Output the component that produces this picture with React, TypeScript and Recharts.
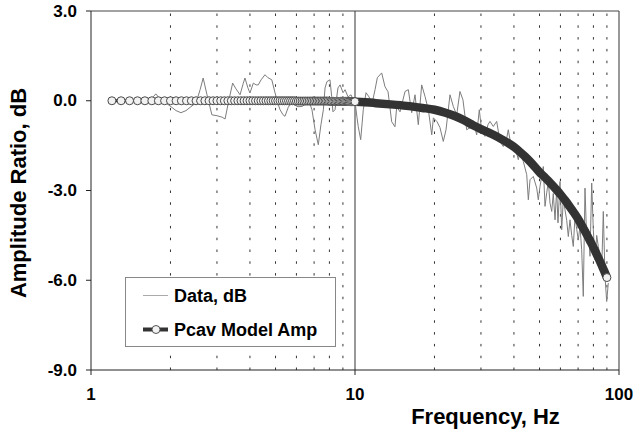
import React from 'react';
import { LineChart, Line, XAxis, YAxis, ReferenceLine, Label } from 'recharts';

const FONT = '"Liberation Sans", Arial, Helvetica, sans-serif';

const xTicks = [1, 10, 100];
const yTicks = [-9, -6, -3, 0, 3];
const dottedGrid = [2, 3, 4, 5, 6, 7, 8, 9, 20, 30, 40, 50, 60, 70, 80, 90];
const solidGrid = [10];

const seriesNames = ['Data, dB', 'Pcav Model Amp'];
const xTitle = 'Frequency, Hz';
const yTitle = 'Amplitude Ratio, dB';

const dataFreq = [
  1.67, 1.72, 1.76, 1.81, 1.87, 1.94, 2.01, 2.1, 2.19, 2.29, 2.39, 2.5, 2.59, 2.66, 2.75, 2.87,
  3.0, 3.14, 3.22, 3.33, 3.44, 3.54, 3.67, 3.77, 3.83, 3.93, 4.0, 4.12, 4.22, 4.3, 4.41, 4.56,
  4.68, 4.84, 4.98, 5.11, 5.2, 5.34, 5.43, 5.58, 5.72, 5.87, 6.08, 6.3, 6.52, 6.7, 6.87, 7.06,
  7.26, 7.43, 7.59, 7.7, 7.83, 8.04, 8.16, 8.25, 8.4, 8.62, 8.78, 9.01, 9.17, 9.41, 9.66, 9.83,
  10.0, 10.18, 10.29, 10.51, 10.75, 11.01, 11.3, 11.6, 11.91, 12.15, 12.62, 12.99, 13.34, 13.77,
  14.17, 14.39, 14.81, 15.47, 15.92, 16.4, 16.88, 17.37, 17.89, 18.42, 18.96, 19.53, 19.81,
  20.45, 20.99, 21.6, 22.12, 22.9, 23.57, 24.28, 24.98, 25.64, 26.49, 27.26, 27.99, 28.91,
  29.57, 30.2, 31.07, 31.9, 32.46, 33.41, 34.41, 35.42, 36.45, 37.55, 38.08, 39.23, 40.37,
  41.55, 42.17, 43.41, 44.72, 45.35, 46.02, 47.36, 48.79, 49.47, 50.22, 51.68, 52.45, 53.23,
  53.98, 54.79, 55.61, 56.37, 57.24, 58.07, 58.74, 59.77, 60.67, 61.52, 62.43, 63.38, 64.27,
  65.22, 66.2, 67.12, 68.13, 69.16, 70.11, 71.16, 72.22, 73.24, 74.33, 75.45, 76.5, 77.66,
  78.81, 79.92, 81.11, 82.33, 83.48, 84.73, 86.0, 87.21, 88.51, 89.82, 91.09,
];
const dataDb = [
  0.0, 0.13, 0.23, 0.1, 0.0, -0.1, -0.2, -0.33, -0.4, -0.33, -0.2, -0.07, 0.37, 0.76, 0.2, -0.47,
  -0.5, -0.55, -0.61, 0.03, 0.59, 0.4, 0.2, 0.57, 0.76, 0.43, 0.26, 0.59, 0.53, 0.53, 0.7, 0.87,
  0.77, 0.7, 0.26, -0.1, -0.3, -0.47, -0.52, -0.23, -0.07, -0.13, -0.2, -0.19, -0.1, -0.03, -0.3, -0.97,
  -1.47, -0.8, -0.3, 0.43, 0.64, 0.7, 0.14, -0.37, -0.3, 0.43, 0.53, 0.27, 0.37, 0.13, 0.2, 0.03,
  -0.02, -0.57, -0.87, -1.3, -0.3, 0.27, 0.13, -0.1, 0.37, 0.77, 0.93, 0.47, 0.3, -0.7,
  -0.87, -0.2, -0.37, 0.31, 0.37, -0.4, 0.2, -0.8, 0.53, 0.14, -0.3, -1.14, -0.57,
  -0.7, -0.9, -1.36, -0.97, 0.2, -0.19, -0.47, 0.31, 0.03, -0.97, -0.9, -0.67, -1.14,
  -0.3, -1.03, -1.19, -0.8, -0.69, -0.86, -0.69, -1.36, -1.53, -1.25, -0.97, -1.64, -1.53,
  -1.97, -1.69, -2.03, -2.47, -3.31, -2.64, -2.53, -2.92, -3.31, -2.86, -2.2, -3.53, -3.08,
  -2.7, -3.42, -3.7, -3.1, -3.98, -2.97, -4.08, -2.7, -4.31, -3.3, -3.64, -4.0, -4.54,
  -3.98, -4.5, -4.87, -3.87, -4.3, -4.65, -4.2, -4.98, -6.54, -2.92, -4.65, -4.3, -5.2,
  -2.75, -4.31, -5.31, -4.5, -4.87, -5.2, -5.65, -3.7, -5.87, -6.71, -6.09,
];

const modelFreq = [
  1.2, 1.3, 1.4, 1.5, 1.6, 1.7, 1.8, 1.9,
  2.0, 2.1, 2.2, 2.3, 2.4, 2.5, 2.6, 2.7, 2.8, 2.9,
  3.0, 3.1, 3.2, 3.3, 3.4, 3.5, 3.6, 3.7, 3.8, 3.9,
  4.0, 4.1, 4.2, 4.3, 4.4, 4.5, 4.6, 4.7, 4.8, 4.9,
  5.0, 5.1, 5.2, 5.3, 5.4, 5.5, 5.6, 5.7, 5.8, 5.9,
  6.0, 6.1, 6.2, 6.3, 6.4, 6.5, 6.6, 6.7, 6.8, 6.9,
  7.0, 7.1, 7.2, 7.3, 7.4, 7.5, 7.6, 7.7, 7.8, 7.9,
  8.0, 8.1, 8.2, 8.3, 8.4, 8.5, 8.6, 8.7, 8.8, 8.9,
  9.0, 9.1, 9.2, 9.3, 9.4, 9.5, 9.6, 9.7, 9.8, 9.9, 10.0,
  12, 14, 16, 18, 20, 22, 24, 26, 28, 30, 32, 34, 36, 38, 40, 42, 44, 46, 48, 50,
  52, 54, 56, 58, 60, 62, 64, 66, 68, 70, 72, 74, 76, 78, 80, 82, 84, 86, 88, 90,
];
const modelDb = [
  0, 0, 0, 0, 0, 0, 0, 0,
  0, 0, 0, 0, 0, 0, 0, 0, 0, 0,
  0, 0, 0, 0, 0, 0, 0, 0, 0, 0,
  0, 0, 0, 0, 0, 0, 0, 0, 0, 0,
  0, 0, 0, 0, 0, 0, 0, 0, 0, 0,
  -0.01, -0.01, -0.01, -0.01, -0.01, -0.01, -0.01, -0.01, -0.01, -0.01,
  -0.01, -0.01, -0.01, -0.01, -0.01, -0.01, -0.01, -0.01, -0.01, -0.01,
  -0.02, -0.02, -0.02, -0.02, -0.02, -0.02, -0.02, -0.02, -0.02, -0.02,
  -0.02, -0.02, -0.02, -0.02, -0.02, -0.03, -0.03, -0.03, -0.03, -0.03, -0.03,
  -0.08, -0.13, -0.18, -0.24, -0.3, -0.4, -0.52, -0.66, -0.82, -0.95, -1.06, -1.17, -1.29, -1.41, -1.54, -1.7, -1.86, -2.03, -2.21, -2.39,
  -2.53, -2.68, -2.83, -2.98, -3.13, -3.29, -3.45, -3.62, -3.78, -3.95, -4.14, -4.33, -4.52, -4.71, -4.9, -5.1, -5.3, -5.5, -5.7, -5.91,
];

const dataRows = dataFreq.map((f, i) => ({ f, db: dataDb[i] }));
const modelRows = modelFreq.map((f, i) => ({ f, model: modelDb[i], band: f >= 9 ? modelDb[i] : null }));
const lastIdx = modelRows.length - 1;

const ModelDot = (props: any) => {
  const { cx, cy, index, payload } = props;
  if (cx == null || cy == null) return <g key={`md${index}`} />;
  if (payload.f <= 10 || index === lastIdx) {
    return <circle key={`md${index}`} cx={cx} cy={cy} r={4} fill="#f2f2f2" stroke="#4a4a4a" strokeWidth={1} />;
  }
  return <g key={`md${index}`} />;
};

const YTick = (props: any) => {
  const { x, y, payload } = props;
  const v = payload.value;
  return (
    <text x={x} y={y} textAnchor="end" dominantBaseline="central" fill="#000"
      fontFamily={FONT} fontWeight={700} fontSize={17}>
      {Number(v).toFixed(1)}
    </text>
  );
};

export default function App() {
  return (
    <div style={{ position: 'absolute', left: 0, top: 0, width: 635, height: 435, background: '#fff' }}>
      <LineChart width={635} height={435} margin={{ top: 11, right: 16, bottom: 0, left: 0 }}>
        <XAxis dataKey="f" type="number" scale="log" domain={[1, 100]} ticks={xTicks} allowDataOverflow
          height={65} tickSize={5} tickMargin={13} stroke="#222"
          tick={{ fill: '#000', fontSize: 17, fontWeight: 700, fontFamily: FONT }}>
          <Label content={() => (
            <text x={485.5} y={424} textAnchor="middle" fill="#000" fontFamily={FONT} fontWeight={700} fontSize={22}>{xTitle}</text>
          )} />
        </XAxis>
        <YAxis type="number" domain={[-9, 3]} ticks={yTicks} allowDataOverflow width={91}
          tickSize={5} tickMargin={9} stroke="#222" tick={<YTick />}>
          <Label content={() => (
            <text x={25.5} y={193} transform="rotate(-90, 25.5, 193)" textAnchor="middle" fill="#000"
              fontFamily={FONT} fontWeight={700} fontSize={22}>{yTitle}</text>
          )} />
        </YAxis>
        {dottedGrid.map((v) => (
          <ReferenceLine key={`g${v}`} x={v} stroke="#333" strokeWidth={1} strokeDasharray="2.5 9.3" />
        ))}
        {solidGrid.map((v) => (
          <ReferenceLine key={`s${v}`} x={v} stroke="#333" strokeWidth={1} />
        ))}
        <ReferenceLine y={3} stroke="#444" strokeWidth={1} />
        <ReferenceLine x={100} stroke="#333" strokeWidth={1} />
        <Line data={dataRows} dataKey="db" name={seriesNames[0]} stroke="#7d7d7d" strokeWidth={1}
          dot={false} isAnimationActive={false} />
        <Line data={modelRows} dataKey="band" name="band" type="monotone" stroke="#333" strokeWidth={8.5}
          dot={false} isAnimationActive={false} legendType="none" />
        <Line data={modelRows} dataKey="model" name={seriesNames[1]} type="monotone" stroke="#333" strokeWidth={3}
          dot={ModelDot} isAnimationActive={false} />
      </LineChart>
      <svg width={211} height={70} style={{ position: 'absolute', left: 125, top: 277 }}>
        <rect x={0.5} y={0.5} width={210} height={69} fill="#fff" stroke="#888" strokeWidth={1} />
        <line x1={18} y1={18.5} x2={43} y2={18.5} stroke="#aaa" strokeWidth={1} />
        <text x={49} y={18.5} dominantBaseline="central" fill="#000" fontFamily={FONT} fontWeight={700} fontSize={18}>{seriesNames[0]}</text>
        <line x1={18} y1={52.5} x2={43} y2={52.5} stroke="#333" strokeWidth={4} />
        <circle cx={31} cy={52.5} r={4} fill="#f2f2f2" stroke="#555" strokeWidth={1} />
        <text x={49} y={52.5} dominantBaseline="central" fill="#000" fontFamily={FONT} fontWeight={700} fontSize={18}>{seriesNames[1]}</text>
      </svg>
    </div>
  );
}
